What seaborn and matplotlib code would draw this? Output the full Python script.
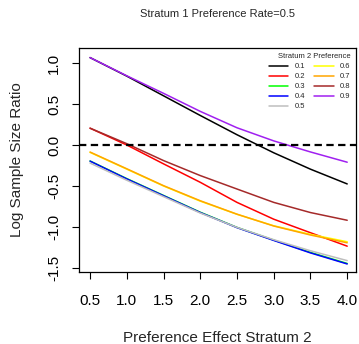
import matplotlib
matplotlib.use("Agg")
import matplotlib.pyplot as plt
import pandas as pd
import seaborn as sns

# preference effect in stratum 2 (x axis)
effect = [0.5, 1.0, 1.5, 2.0, 2.5, 3.0, 3.5, 4.0]

# log sample size ratio, one list per stratum 2 preference rate
pref_labels = ["0.1", "0.2", "0.3", "0.4", "0.5", "0.6", "0.7", "0.8", "0.9"]
ratio_01 = [1.066, 0.84, 0.60, 0.36, 0.125, -0.095, -0.295, -0.475]
ratio_02 = [0.205, 0.0, -0.23, -0.455, -0.70, -0.905, -1.07, -1.234]
ratio_03 = [-0.195, -0.41, -0.615, -0.82, -1.005, -1.16, -1.31, -1.445]
ratio_04 = [-0.197, -0.414, -0.619, -0.824, -1.008, -1.164, -1.316, -1.451]
ratio_05 = [-0.22, -0.43, -0.63, -0.83, -1.005, -1.155, -1.29, -1.41]
ratio_06 = [-0.09, -0.295, -0.50, -0.685, -0.845, -0.985, -1.09, -1.18]
ratio_07 = [-0.086, -0.29, -0.496, -0.68, -0.844, -0.988, -1.098, -1.193]
ratio_08 = [0.205, 0.016, -0.19, -0.373, -0.537, -0.70, -0.824, -0.918]
ratio_09 = [1.066, 0.844, 0.63, 0.41, 0.21, 0.05, -0.085, -0.21]
all_ratios = [ratio_01, ratio_02, ratio_03, ratio_04, ratio_05,
              ratio_06, ratio_07, ratio_08, ratio_09]

line_colors = ["#000000", "#FF0000", "#00FF00", "#0000FF", "#BEBEBE",
               "#FFFF00", "#FFA500", "#A52A2A", "#A020F0"]

x_ticks = [0.5, 1.0, 1.5, 2.0, 2.5, 3.0, 3.5, 4.0]
y_ticks = [-1.5, -1.0, -0.5, 0.0, 0.5, 1.0]

rows = []
for lab, vals in zip(pref_labels, all_ratios):
    for xv, yv in zip(effect, vals):
        rows.append({"effect": xv, "ratio": yv, "pref": lab})
df = pd.DataFrame(rows)

sns.set_theme(style="ticks")
plt.rcParams["font.family"] = ["Liberation Sans", "DejaVu Sans"]

fig = plt.figure(figsize=(3.59, 3.44), dpi=100)
ax = fig.add_axes([0.2201, 0.2093, 0.7716, 0.6512])

sns.lineplot(data=df, x="effect", y="ratio", hue="pref", hue_order=pref_labels,
             palette=dict(zip(pref_labels, line_colors)), linewidth=1.1,
             estimator=None, ax=ax)
ax.axhline(0, color="black", linewidth=1.6, dashes=(3.3, 2.0), zorder=5)

ax.set_xlim(0.35, 4.12)
ax.set_ylim(-1.549, 1.183)
ax.set_xticks(x_ticks)
ax.set_xticklabels([f"{v:.1f}" for v in x_ticks])
ax.set_yticks(y_ticks)
ax.set_yticklabels([f"{v:.1f}" for v in y_ticks])
ax.tick_params(axis="both", direction="out", length=5, width=0.8,
               color="black", labelsize=11, labelcolor="black")
ax.tick_params(axis="x", pad=11)
ax.tick_params(axis="y", pad=8)
plt.setp(ax.get_yticklabels(), rotation=90, va="center")

for side in ["top", "right", "bottom", "left"]:
    ax.spines[side].set_visible(True)
    ax.spines[side].set_color("black")
    ax.spines[side].set_linewidth(0.9)

ax.set_xlabel("Preference Effect Stratum 2", fontsize=11)
ax.set_ylabel("Log Sample Size Ratio", fontsize=11)
ax.xaxis.set_label_coords(0.5, -0.265)
ax.yaxis.set_label_coords(-0.20, 0.5)
ax.set_title("Stratum 1 Preference Rate=0.5", fontsize=8, pad=22)

handles, labels = ax.get_legend_handles_labels()
leg = ax.legend(handles, labels, title="Stratum 2 Preference", ncol=2,
                loc="upper right", bbox_to_anchor=(1.0, 1.0), frameon=False,
                fontsize=5.5, title_fontsize=5.5, alignment="right",
                handlelength=2.6, handletextpad=0.8, columnspacing=1.2,
                labelspacing=0.35, borderaxespad=0.3)
for line in leg.get_lines():
    line.set_linewidth(1.1)

fig.savefig("out.png", dpi=100, facecolor="white")
